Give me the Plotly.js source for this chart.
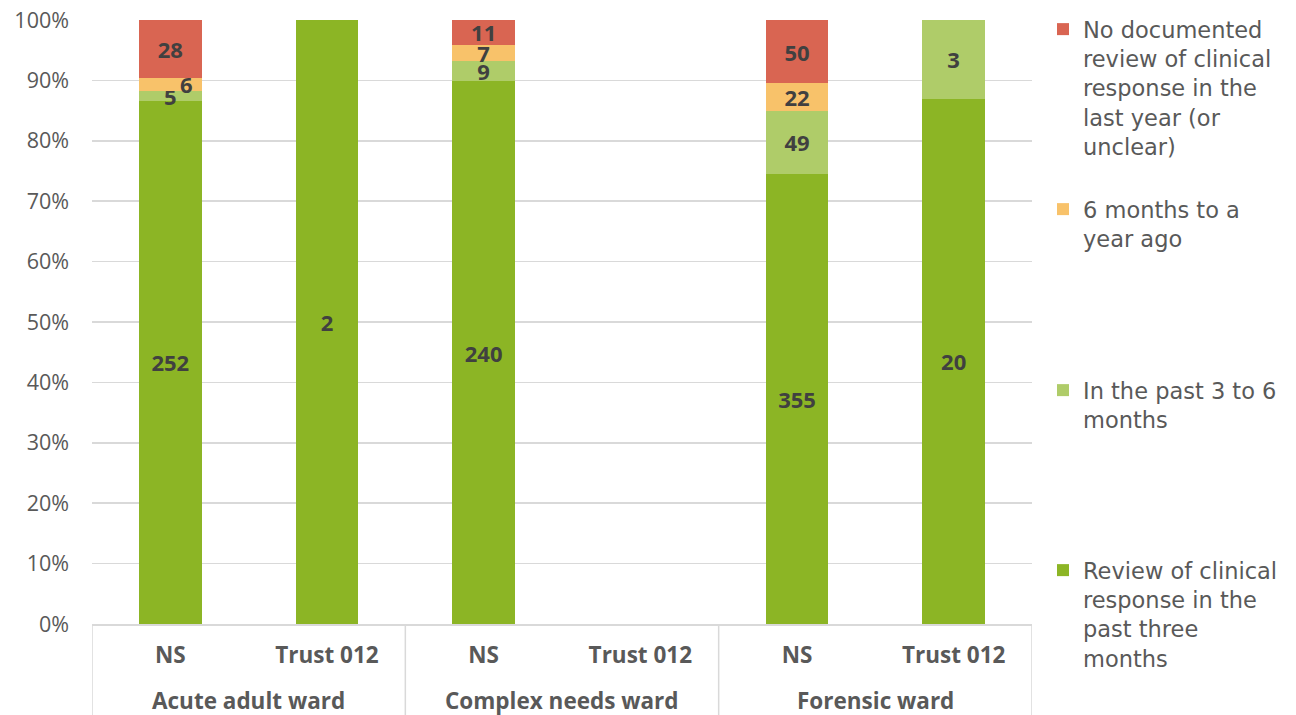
<!DOCTYPE html>
<html>
<head>
<meta charset="utf-8">
<script src="https://cdn.plot.ly/plotly-3.0.1.min.js"></script>
<style>
  html, body { margin: 0; padding: 0; background: #ffffff; }
  #chart { width: 1296px; height: 715px; }
</style>
</head>
<body>
<div id="chart"></div>
<script>
// Ward type (outer category) and organisation (inner category)
const wards = ['Acute adult ward', 'Acute adult ward', 'Complex needs ward', 'Complex needs ward', 'Forensic ward', 'Forensic ward'];
const orgs = ['NS', 'Trust 012', 'NS', 'Trust 012', 'NS', 'Trust 012'];

// Number of patients by time since last documented review of clinical response
const pastThreeMonths = [252, 2, 240, 0, 355, 20];
const threeToSixMonths = [5, 0, 9, 0, 49, 3];
const sixMonthsToYear = [6, 0, 7, 0, 22, 0];
const noReview = [28, 0, 11, 0, 50, 0];

const seriesNames = [
  'Review of clinical<br>response in the<br>past three<br>months',
  'In the past 3 to 6<br>months',
  '6 months to a<br>year ago',
  'No documented<br>review of clinical<br>response in the<br>last year (or<br>unclear)'
];
const seriesColors = ['#8CB525', '#AFCC69', '#F8C26A', '#D96552'];
const seriesValues = [pastThreeMonths, threeToSixMonths, sixMonthsToYear, noReview];
const legendIds = ['legend4', 'legend3', 'legend2', 'legend'];

const FONT = 'Open Sans, Noto Sans, sans-serif';
const LEGEND_FONT = 'DejaVu Sans, Open Sans, sans-serif';
const labelColor = '#404040';
const textGrey = '#595959';
const gridGrey = '#D9D9D9';

// One slot per organisation/ward pair along the x axis
const slots = orgs.map((_, i) => i);

// Ward groups: first and last slot of each run of the same ward
const wardGroups = [];
wards.forEach((w, i) => {
  const last = wardGroups[wardGroups.length - 1];
  if (last && last.name === w) last.end = i;
  else wardGroups.push({ name: w, start: i, end: i });
});

// Labels drawn as annotations instead of inside text (series index, bar index, pixel nudge)
const nudgedLabels = [{ s: 2, i: 0, xshift: 16, yshift: 0 }];
const isNudged = (s, i) => nudgedLabels.some(n => n.s === s && n.i === i);

const traces = seriesValues.map((vals, s) => ({
  type: 'bar',
  x: slots,
  y: vals,
  name: seriesNames[s],
  legend: legendIds[s],
  marker: { color: seriesColors[s], line: { width: 0 } },
  text: vals.map((v, i) => (v > 0 && !isNudged(s, i)) ? String(v) : ''),
  textposition: 'inside',
  insidetextanchor: 'middle',
  textangle: 0,
  textfont: { family: FONT, size: 22, color: labelColor, weight: 'bold' },
  hoverinfo: 'skip'
}));

// Percent position of each nudged label, from the same counts
const totals = slots.map(i => seriesValues.reduce((a, sv) => a + sv[i], 0));
const valueAnnotations = nudgedLabels.map(n => {
  const below = seriesValues.slice(0, n.s).reduce((a, sv) => a + sv[n.i], 0);
  const mid = (below + seriesValues[n.s][n.i] / 2) / totals[n.i] * 100;
  return {
    x: n.i, xref: 'x', y: mid, yref: 'y',
    text: '<b>' + seriesValues[n.s][n.i] + '</b>',
    showarrow: false, xshift: n.xshift, yshift: n.yshift,
    font: { family: FONT, size: 22, color: labelColor }
  };
});

const W = 1296, H = 715;
const M = { l: 92, r: 264, t: 20, b: 91 };
const plotH = H - M.t - M.b;

// Ward names in the second row under the organisation labels
const wardAnnotations = wardGroups.map(g => ({
  x: (g.start + g.end) / 2, xref: 'x',
  y: 0, yref: 'paper', yanchor: 'middle', yshift: -76,
  text: '<b>' + g.name + '</b>',
  showarrow: false, borderpad: 0,
  font: { family: FONT, size: 22.5, color: textGrey }
}));

// Vertical dividers at the edges of each ward group, down to the bottom of the figure
const dividerXs = [wardGroups[0].start - 0.5].concat(wardGroups.map(g => g.end + 0.5));
const dividers = dividerXs.map(x => ({
  type: 'line', xref: 'x', yref: 'paper',
  x0: x, x1: x, y0: 0, y1: -M.b / plotH,
  line: { color: gridGrey, width: 1.5 }, layer: 'below'
}));

const legendBase = {
  xref: 'container', yref: 'container', xanchor: 'left', yanchor: 'top',
  bgcolor: 'rgba(0,0,0,0)', borderwidth: 0, valign: 'top',
  font: { family: LEGEND_FONT, size: 22.5, color: textGrey },
  itemclick: false, itemdoubleclick: false
};
const legendAt = (px, py) => Object.assign({}, legendBase, { x: px / W, y: 1 - py / H });

const layout = {
  width: W, height: H,
  margin: { l: M.l, r: M.r, t: M.t, b: M.b, pad: 0 },
  paper_bgcolor: '#ffffff', plot_bgcolor: '#ffffff',
  font: { family: FONT, color: textGrey },
  barmode: 'stack',
  barnorm: 'percent',
  bargap: 0.6,
  uniformtext: { mode: 'show', minsize: 22 },
  showlegend: true,
  legend: legendAt(1043, 8),
  legend2: legendAt(1043, 188),
  legend3: legendAt(1043, 369),
  legend4: legendAt(1043, 549),
  xaxis: {
    type: 'linear',
    range: [slots[0] - 0.5, slots[slots.length - 1] + 0.5],
    tickvals: slots,
    ticktext: orgs,
    showgrid: false, zeroline: false,
    showline: true, linecolor: gridGrey, linewidth: 1.5,
    ticks: '',
    ticklabelstandoff: 10,
    tickfont: { family: FONT, size: 22.5, color: textGrey, weight: 'bold' },
    fixedrange: true
  },
  yaxis: {
    range: [0, 100],
    dtick: 10,
    ticksuffix: '%',
    showgrid: true, gridcolor: gridGrey, gridwidth: 1.5,
    zeroline: false, showline: false,
    ticks: '',
    ticklabelstandoff: 22,
    tickfont: { family: FONT, size: 21.5, color: textGrey },
    fixedrange: true
  },
  shapes: dividers,
  annotations: valueAnnotations.concat(wardAnnotations)
};

Plotly.newPlot('chart', traces, layout, { displayModeBar: false, staticPlot: true });
</script>
</body>
</html>
